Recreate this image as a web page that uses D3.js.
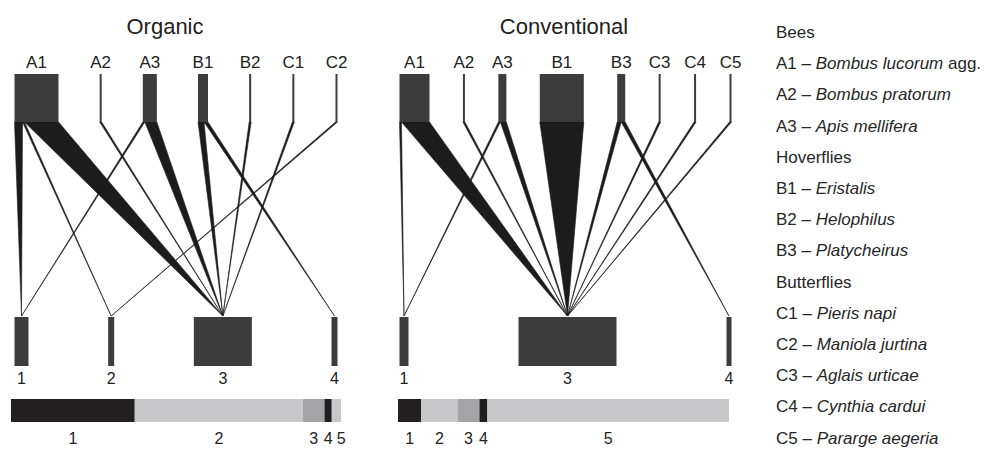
<!DOCTYPE html>
<html>
<head>
<meta charset="utf-8">
<script src="https://cdn.jsdelivr.net/npm/d3@7/dist/d3.min.js"></script>
<style>
  body { margin: 0; background: #fff; }
  svg { display: block; font-family: "Liberation Sans", Arial, sans-serif; }
</style>
</head>
<body>
<svg id="chart" width="987" height="449"></svg>
<script>
// pollinators (upper row) and plants (lower row), visits per link
var organicPollinators = ["A1", "A2", "A3", "B1", "B2", "C1", "C2"];
var organicPlants = ["1", "2", "3", "4"];
var organicPlantSize = [7, 3, 29, 3];
var organicLinks = [
	["A1", "1", 4], ["A1", "2", 1], ["A1", "3", 17],
	["A2", "3", 1],
	["A3", "1", 1], ["A3", "3", 6],
	["B1", "3", 3], ["B1", "4", 2],
	["B2", "3", 1],
	["C1", "3", 1],
	["C2", "2", 1]
];
var organicShares = [37.5, 51, 6.5, 2.2, 2.8];

var conventionalPollinators = ["A1", "A2", "A3", "B1", "B3", "C3", "C4", "C5"];
var conventionalPlants = ["1", "3", "4"];
var conventionalPlantSize = [4.5, 49, 2.5];
var conventionalLinks = [
	["A1", "1", 1], ["A1", "3", 14],
	["A2", "3", 1],
	["A3", "1", 1], ["A3", "3", 3],
	["B1", "3", 22],
	["B3", "3", 2], ["B3", "4", 2],
	["C3", "3", 1],
	["C4", "3", 1],
	["C5", "3", 1]
];
var conventionalShares = [7, 11, 6.6, 2.4, 73];

var shareLabels = ["1", "2", "3", "4", "5"];
var shareColors = ["#231f20", "#c8c8ca", "#a4a4a6", "#231f20", "#c8c8ca"];

var legendRows = [
	{ code: "", latin: "", text: "Bees" },
	{ code: "A1", latin: "Bombus lucorum", text: " agg." },
	{ code: "A2", latin: "Bombus pratorum", text: "" },
	{ code: "A3", latin: "Apis mellifera", text: "" },
	{ code: "", latin: "", text: "Hoverflies" },
	{ code: "B1", latin: "Eristalis", text: "" },
	{ code: "B2", latin: "Helophilus", text: "" },
	{ code: "B3", latin: "Platycheirus", text: "" },
	{ code: "", latin: "", text: "Butterflies" },
	{ code: "C1", latin: "Pieris napi", text: "" },
	{ code: "C2", latin: "Maniola jurtina", text: "" },
	{ code: "C3", latin: "Aglais urticae", text: "" },
	{ code: "C4", latin: "Cynthia cardui", text: "" },
	{ code: "C5", latin: "Pararge aegeria", text: "" }
];

var panels = [
	{ title: "Organic", upper: organicPollinators, lower: organicPlants, lowerSize: organicPlantSize,
	  links: organicLinks, shares: organicShares, x0: 14.5, x1: 337.5, barX0: 11, barX1: 341, titleX: 165 },
	{ title: "Conventional", upper: conventionalPollinators, lower: conventionalPlants, lowerSize: conventionalPlantSize,
	  links: conventionalLinks, shares: conventionalShares, x0: 399.5, x1: 731.5, barX0: 398, barX1: 729, titleX: 564 }
];

var svg = d3.select("#chart");

var boxColor = "#3c3c3c",
	linkColor = "#1c1c1c",
	textColor = "#222";

var upperTop = 74, upperBottom = 122,
	lowerTop = 317, lowerBottom = 366;

// px per visit
var w = d3.scaleLinear().domain([0, 1]).range([0, 2]);

// place boxes side by side with equal gaps between them
function rowLayout(names, values, x0, x1) {
	var total = w(d3.sum(values));
	var gap = (x1 - x0 - total) / (names.length - 1);
	var x = x0;
	return names.map(function(n, i) {
		var b = { name: n, x: x, w: w(values[i]) };
		x += b.w + gap;
		return b;
	});
}

panels.forEach(function(p) {
	var g = svg.append("g");

	var upperTotals = p.upper.map(function(n) {
		return d3.sum(p.links.filter(function(l) { return l[0] == n; }), function(l) { return l[2]; });
	});
	var upperBoxes = rowLayout(p.upper, upperTotals, p.x0, p.x1);
	var lowerBoxes = rowLayout(p.lower, p.lowerSize, p.x0, p.x1);
	var lowerByName = {};
	lowerBoxes.forEach(function(b) { lowerByName[b.name] = b; });

	// link wedges: stacked along bottom of upper box, meet at center of lower box
	var polys = [];
	upperBoxes.forEach(function(b) {
		var x = b.x;
		p.links.filter(function(l) { return l[0] == b.name; })
			.sort(function(a, c) { return p.lower.indexOf(a[1]) - p.lower.indexOf(c[1]); })
			.forEach(function(l) {
				var lb = lowerByName[l[1]];
				var lw = w(l[2]);
				polys.push([[x, upperBottom], [x + lw, upperBottom], [lb.x + lb.w / 2, lowerTop - 1]]);
				x += lw;
			});
	});

	g.selectAll("path.link")
		.data(polys)
		.enter().append("path")
		.attr("class", "link")
		.attr("d", function(d) { return "M" + d.join("L") + "Z"; })
		.attr("fill", linkColor)
		.attr("stroke", linkColor)
		.attr("stroke-width", 0.6)
		.attr("stroke-linejoin", "round");

	g.selectAll("rect.upper")
		.data(upperBoxes)
		.enter().append("rect")
		.attr("class", "upper")
		.attr("x", function(d) { return d.x; })
		.attr("y", upperTop)
		.attr("width", function(d) { return Math.max(d.w, 1.5); })
		.attr("height", upperBottom - upperTop)
		.attr("fill", boxColor);

	g.selectAll("rect.lower")
		.data(lowerBoxes)
		.enter().append("rect")
		.attr("class", "lower")
		.attr("x", function(d) { return d.x; })
		.attr("y", lowerTop)
		.attr("width", function(d) { return d.w; })
		.attr("height", lowerBottom - lowerTop)
		.attr("fill", boxColor);

	g.append("text")
		.attr("x", p.titleX)
		.attr("y", 34)
		.attr("text-anchor", "middle")
		.attr("font-size", 22)
		.attr("fill", textColor)
		.text(p.title);

	g.selectAll("text.upper")
		.data(upperBoxes)
		.enter().append("text")
		.attr("class", "upper")
		.attr("x", function(d) { return d.x + d.w / 2; })
		.attr("y", 68)
		.attr("text-anchor", "middle")
		.attr("font-size", 17)
		.attr("fill", textColor)
		.text(function(d) { return d.name; });

	g.selectAll("text.lower")
		.data(lowerBoxes)
		.enter().append("text")
		.attr("class", "lower")
		.attr("x", function(d) { return d.x + d.w / 2; })
		.attr("y", 384)
		.attr("text-anchor", "middle")
		.attr("font-size", 16)
		.attr("fill", textColor)
		.text(function(d) { return d.name; });

	// stacked share bar
	var bx = d3.scaleLinear().domain([0, d3.sum(p.shares)]).range([p.barX0, p.barX1]);
	var ends = Array.from(d3.cumsum(p.shares));
	var segs = p.shares.map(function(v, i) {
		return { a: ends[i] - v, b: ends[i], label: shareLabels[i], color: shareColors[i] };
	});
	// label under segment middle, nudged right so narrow ones don't collide
	segs.forEach(function(s, i) {
		s.lx = (bx(s.a) + bx(s.b)) / 2;
		if (i > 0 && s.lx < segs[i - 1].lx + 13) s.lx = segs[i - 1].lx + 13;
	});

	g.selectAll("rect.share")
		.data(segs)
		.enter().append("rect")
		.attr("class", "share")
		.attr("x", function(d) { return bx(d.a); })
		.attr("y", 399)
		.attr("width", function(d) { return bx(d.b) - bx(d.a); })
		.attr("height", 23)
		.attr("fill", function(d) { return d.color; });

	g.selectAll("text.share")
		.data(segs)
		.enter().append("text")
		.attr("class", "share")
		.attr("x", function(d) { return d.lx; })
		.attr("y", 444)
		.attr("text-anchor", "middle")
		.attr("font-size", 16)
		.attr("fill", textColor)
		.text(function(d) { return d.label; });
});

// species legend
var legend = svg.append("g").attr("font-size", 17).attr("fill", "#262626");
var lt = legend.selectAll("text")
	.data(legendRows)
	.enter().append("text")
	.attr("x", 776)
	.attr("y", function(d, i) { return 38 + i * 31.2; });

lt.filter(function(d) { return d.code; })
	.append("tspan")
	.text(function(d) { return d.code + " \u2013 "; });
lt.filter(function(d) { return d.latin; })
	.append("tspan")
	.attr("font-style", "italic")
	.text(function(d) { return d.latin; });
lt.filter(function(d) { return d.text; })
	.append("tspan")
	.text(function(d) { return d.text; });
</script>
</body>
</html>
